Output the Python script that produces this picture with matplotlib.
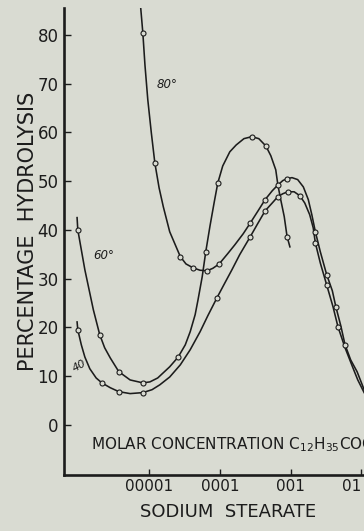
import numpy as np
import matplotlib
matplotlib.use("Agg")
import matplotlib.pyplot as plt
from matplotlib.ticker import NullLocator

# Hydrolysis of sodium stearate vs. molar concentration (log10 of mol/l)
# Smooth curves (line) and measured points (markers) for three temperatures.

# 80 deg curve
t80_line_logc = [-5.12, -5.09, -5.06, -5.02, -4.97, -4.92, -4.86, -4.80, -4.71, -4.56,
                 -4.48, -4.38, -4.28, -4.18, -4.10, -4.01, -3.89, -3.79, -3.67, -3.57,
                 -3.46, -3.36, -3.26, -3.18, -3.11, -3.05, -2.98, -2.90, -2.82, -2.75,
                 -2.70, -2.65, -2.58, -2.49, -2.41, -2.36, -2.29, -2.23, -2.15, -2.06,
                 -1.96]
t80_line_pct = [85.5, 80.4, 73.8, 66.7, 59.9, 53.7, 48.6, 44.7, 39.6, 34.5,
                33.0, 32.2, 31.7, 31.6, 32.1, 33.0, 35.1, 36.9, 39.2, 41.4,
                43.9, 46.2, 48.0, 49.2, 50.1, 50.5, 50.7, 50.3, 48.8, 46.2,
                43.1, 39.6, 35.5, 30.8, 27.5, 24.2, 20.3, 16.4, 13.3, 10.9,
                7.2]
t80_pts_logc = [-5.09, -4.92, -4.56, -4.38, -4.18, -4.01, -3.57, -3.36, -3.18, -3.05,
                -2.65, -2.49, -2.36, -2.23]
t80_pts_pct = [80.4, 53.7, 34.5, 32.2, 31.6, 33.0, 41.4, 46.2, 49.2, 50.5,
               39.6, 30.8, 24.2, 16.4]

# 60 deg curve
t60_line_logc = [-6.02, -6.01, -5.96, -5.91, -5.85, -5.79, -5.70, -5.63, -5.55, -5.43,
                 -5.27, -5.09, -4.99, -4.88, -4.71, -4.59, -4.49, -4.42, -4.35, -4.31,
                 -4.25, -4.20, -4.14, -4.08, -4.03, -3.96, -3.86, -3.77, -3.66, -3.55,
                 -3.45, -3.35, -3.28, -3.21, -3.18, -3.14, -3.09, -3.05, -3.01]
t60_line_pct = [42.5, 40.0, 35.9, 31.8, 27.7, 23.6, 18.5, 15.8, 13.7, 10.9,
                9.2, 8.6, 8.8, 9.6, 11.9, 13.9, 16.4, 19.1, 22.6, 25.6,
                30.4, 35.5, 40.8, 45.7, 49.6, 53.1, 56.0, 57.4, 58.7, 59.1,
                58.7, 57.2, 55.2, 52.3, 49.2, 46.2, 42.7, 38.6, 36.5]
t60_pts_logc = [-6.01, -5.70, -5.43, -5.09, -4.59, -4.20, -4.03, -3.55, -3.35, -3.05]
t60_pts_pct = [40.0, 18.5, 10.9, 8.6, 13.9, 35.5, 49.6, 59.1, 57.2, 38.6]

# 40 deg curve
t40_line_logc = [-6.02, -6.01, -5.96, -5.91, -5.84, -5.75, -5.67, -5.55, -5.43, -5.27,
                 -5.09, -4.96, -4.85, -4.71, -4.56, -4.42, -4.28, -4.17, -4.04, -3.93,
                 -3.83, -3.72, -3.57, -3.46, -3.36, -3.26, -3.18, -3.11, -3.04, -2.95,
                 -2.87, -2.80, -2.73, -2.68, -2.65, -2.58, -2.49, -2.40, -2.33, -2.23,
                 -2.13, -2.05, -1.96]
t40_line_pct = [21.1, 19.5, 16.4, 13.9, 11.5, 9.6, 8.6, 7.6, 6.8, 6.4,
                6.6, 7.2, 8.2, 9.8, 12.3, 15.4, 19.1, 22.4, 26.1, 29.1,
                31.8, 34.9, 38.6, 41.4, 43.9, 45.5, 46.8, 47.4, 47.8, 47.8,
                47.0, 45.5, 43.1, 40.4, 37.3, 33.2, 28.7, 24.2, 20.1, 15.8,
                12.1, 9.2, 6.6]
t40_pts_logc = [-6.01, -5.67, -5.43, -5.09, -4.04, -3.57, -3.36, -3.18, -3.04, -2.87,
                -2.65, -2.49, -2.33]
t40_pts_pct = [19.5, 8.6, 6.8, 6.6, 26.1, 38.6, 43.9, 46.8, 47.8, 47.0,
               37.3, 28.7, 20.1]

x_tick_values = [1e-5, 1e-4, 1e-3, 1e-2]
x_tick_labels = ["00001", "0001", "001", "01"]
y_tick_values = [0, 10, 20, 30, 40, 50, 60, 70, 80]

PAPER = "#d9dbd2"
INK = "#1c1c1c"

fig = plt.figure(figsize=(3.64, 5.31), dpi=100, facecolor=PAPER)
ax = fig.add_axes([64 / 364, 56 / 531, 1 - 64 / 364, 467 / 531])
ax.set_facecolor(PAPER)
ax.set_xscale("log")

curves = [
    (t80_line_logc, t80_line_pct, t80_pts_logc, t80_pts_pct),
    (t60_line_logc, t60_line_pct, t60_pts_logc, t60_pts_pct),
    (t40_line_logc, t40_line_pct, t40_pts_logc, t40_pts_pct),
]
for lx, ly, px, py in curves:
    ax.plot(10.0 ** np.array(lx), ly, color=INK, lw=1.15, zorder=2,
            solid_joinstyle="round")
    ax.plot(10.0 ** np.array(px), py, linestyle="none", marker="o", ms=3.6,
            mfc=PAPER, mec=INK, mew=0.8, zorder=3)

ax.set_xlim(10 ** -6.205, 10 ** -1.962)
ax.set_ylim(-10.3, 85.5)

for side in ("top", "right"):
    ax.spines[side].set_visible(False)
for side in ("left", "bottom"):
    ax.spines[side].set_linewidth(1.9)
    ax.spines[side].set_color(INK)

ax.set_yticks(y_tick_values)
ax.tick_params(axis="y", direction="in", length=5, width=1.0, color=INK,
               labelsize=12, labelcolor=INK, pad=4)
ax.set_xticks(x_tick_values)
ax.set_xticklabels(x_tick_labels)
ax.xaxis.set_minor_locator(NullLocator())
ax.tick_params(axis="x", direction="in", length=4, width=1.0, color=INK,
               labelsize=11, labelcolor=INK, pad=3)
ax.get_xticklabels()[-1].set_horizontalalignment("right")

# curve labels
ax.text(10 ** -4.75, 69.9, "80°", fontsize=8.5, style="italic", color=INK,
        ha="center", va="center")
ax.text(10 ** -5.65, 34.7, "60°", fontsize=8.5, style="italic", color=INK,
        ha="center", va="center")
ax.text(10 ** -5.98, 12.0, "40", fontsize=8, style="italic", color=INK,
        ha="center", va="center", rotation=30)

fig.text(91 / 364, (531 - 445) / 531,
         "MOLAR CONCENTRATION C$_{12}$H$_{35}$COONa",
         fontsize=11, color=INK, ha="left", va="center")
fig.text(228 / 364, (531 - 512) / 531, "SODIUM  STEARATE",
         fontsize=13, color=INK, ha="center", va="center")
fig.text(28 / 364, (531 - 231) / 531, "PERCENTAGE  HYDROLYSIS",
         fontsize=15, color=INK, ha="center", va="center", rotation=90)

fig.savefig("out.png", dpi=100, facecolor=PAPER)
